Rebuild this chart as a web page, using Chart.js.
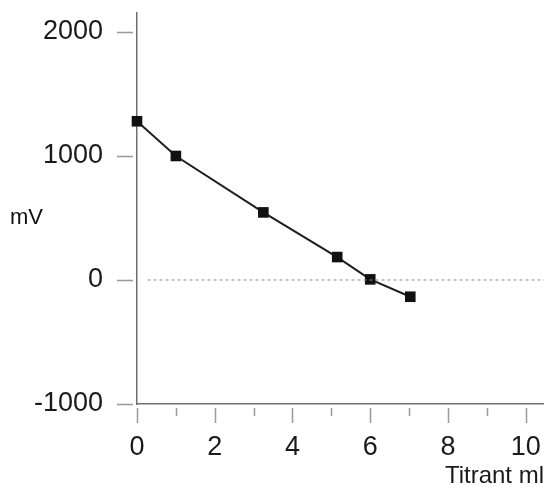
<!DOCTYPE html>
<html>
<head>
<meta charset="utf-8">
<script src="https://cdn.jsdelivr.net/npm/chart.js@4.4.1/dist/chart.umd.min.js"></script>
<style>
  html, body { margin: 0; padding: 0; background: #fff; }
  #wrap { position: relative; width: 544px; height: 491px; }
</style>
</head>
<body>
<div id="wrap"><canvas id="chart"></canvas></div>
<script>
// titration readings
var titrantMl = [0, 1, 3.25, 5.15, 6, 7.03];
var potentialMv = [1280, 1000, 545, 185, 5, -135];
var xTicks = [0, 2, 4, 6, 8, 10];
var xMinorTicks = [1, 3, 5, 7, 9];
var yTicks = [-1000, 0, 1000, 2000];
var zeroLineX = [0.27, 10.47];

var FONT = '"Liberation Sans", Arial, Helvetica, sans-serif';

// short tick marks set off a little from the axis lines
var tickMarks = {
    id: 'tickMarks',
    afterDraw: function (chart) {
        var ctx = chart.ctx, x = chart.scales.x, y = chart.scales.y;
        ctx.save();
        ctx.strokeStyle = '#9a9a9a';
        ctx.lineWidth = 1.5;
        ctx.beginPath();
        yTicks.forEach(function (v) {
            var py = Math.round(y.getPixelForValue(v)) + 0.5;
            ctx.moveTo(x.left - 20, py); ctx.lineTo(x.left - 4, py);
        });
        xTicks.forEach(function (v) {
            var px = Math.round(x.getPixelForValue(v)) + 0.5;
            ctx.moveTo(px, y.bottom + 4); ctx.lineTo(px, y.bottom + 19);
        });
        xMinorTicks.forEach(function (v) {
            var px = Math.round(x.getPixelForValue(v)) + 0.5;
            ctx.moveTo(px, y.bottom + 4); ctx.lineTo(px, y.bottom + 12);
        });
        ctx.stroke();
        // horizontal unit label beside the y axis
        ctx.fillStyle = '#111';
        ctx.font = '22px ' + FONT;
        ctx.textBaseline = 'middle';
        ctx.textAlign = 'left';
        ctx.fillText('mV', 10, 218);
        ctx.restore();
    }
};

function noOverhang(s) {
    s.paddingLeft = 0; s.paddingRight = 0; s.paddingTop = 0; s.paddingBottom = 0;
}

new Chart(document.getElementById('chart'), {
    type: 'scatter',
    data: {
        datasets: [
            {
                data: zeroLineX.map(function (v) { return { x: v, y: 0 }; }),
                showLine: true,
                borderColor: '#8a8a8a',
                borderWidth: 1,
                borderDash: [3, 3],
                pointRadius: 0
            },
            {
                data: titrantMl.map(function (v, i) { return { x: v, y: potentialMv[i] }; }),
                showLine: true,
                clip: false,
                borderColor: '#1e1e1e',
                borderWidth: 2,
                pointStyle: 'rect',
                pointRadius: 7.5,
                pointBackgroundColor: '#111',
                pointBorderColor: '#111',
                pointBorderWidth: 0
            }
        ]
    },
    options: {
        responsive: true,
        maintainAspectRatio: false,
        animation: false,
        layout: { autoPadding: false, padding: { top: 13, right: 0, bottom: 0, left: 0 } },
        plugins: { legend: { display: false }, tooltip: { enabled: false } },
        scales: {
            x: {
                type: 'linear',
                min: 0,
                max: 10.47,
                afterFit: function (s) { s.height = 87; noOverhang(s); },
                afterBuildTicks: function (s) { s.ticks = xTicks.map(function (v) { return { value: v }; }); },
                grid: { display: false, drawTicks: false },
                border: { display: true, color: '#707070', width: 1.5 },
                ticks: {
                    padding: 27, color: '#1a1a1a', font: { family: FONT, size: 27 }, maxRotation: 0,
                    callback: function (v) { return String(v); }
                },
                title: {
                    display: true,
                    text: 'Titrant ml',
                    align: 'end',
                    color: '#1a1a1a',
                    font: { family: FONT, size: 24 },
                    padding: { top: 0, bottom: 0 }
                }
            },
            y: {
                type: 'linear',
                min: -1000,
                max: 2153,
                afterFit: function (s) { s.width = 137; noOverhang(s); },
                afterBuildTicks: function (s) { s.ticks = yTicks.map(function (v) { return { value: v }; }); },
                grid: { display: false, drawTicks: false },
                border: { display: true, color: '#707070', width: 1.5 },
                ticks: {
                    padding: 34, color: '#1a1a1a', font: { family: FONT, size: 27 },
                    callback: function (v) { return String(v); }
                }
            }
        }
    },
    plugins: [tickMarks]
});
</script>
</body>
</html>
